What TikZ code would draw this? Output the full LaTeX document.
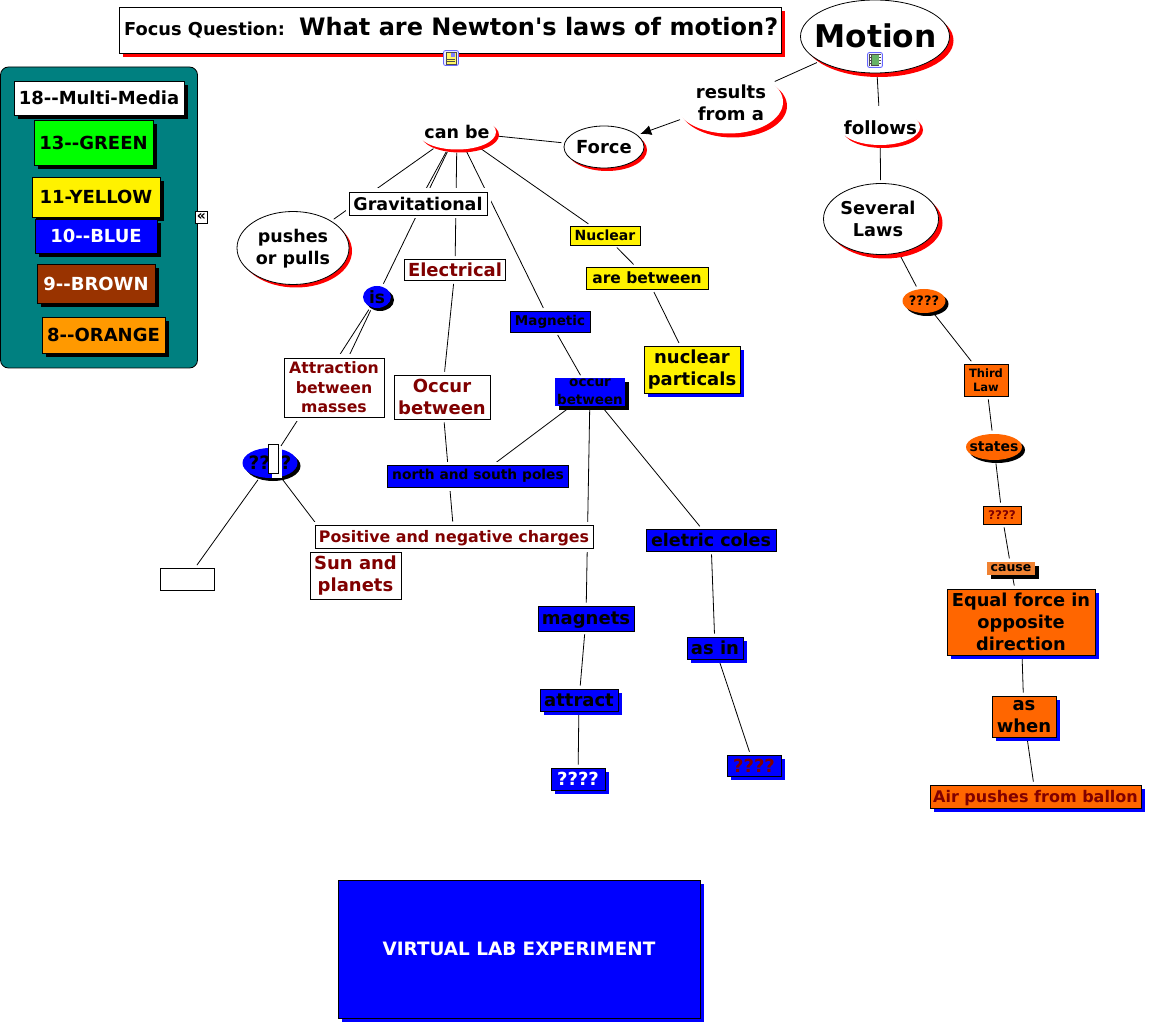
\documentclass[tikz,border=0pt]{standalone}
\usepackage{fontspec}
\setmainfont{DejaVu Sans}[Ligatures=TeXOff]
\usetikzlibrary{shapes.geometric,shadows,arrows.meta,backgrounds}
\definecolor{darkred}{RGB}{128,0,0}
\definecolor{legendteal}{RGB}{0,128,128}
\definecolor{lawred}{RGB}{255,102,0}
\definecolor{legendbrown}{RGB}{153,51,0}
\definecolor{legendorange}{RGB}{255,153,0}
\definecolor{causefill}{RGB}{240,130,50}
\tikzset{
    wh/.style 2 args={minimum width=#1pt,minimum height=#2pt,inner sep=0pt,align=center},
    fsz/.style 2 args={font=\fontsize{#1}{#2}\selectfont\bfseries,inner sep=0pt,align=center},
    boxed/.style={draw=black,line width=.8pt},
    oval/.style={ellipse,draw=black,line width=.8pt},
    redshade/.style={drop shadow={shadow xshift=#1pt,shadow yshift=-#1pt,fill=red,opacity=1}},
    blackshade/.style={drop shadow={shadow xshift=#1pt,shadow yshift=-#1pt,fill=black,opacity=1}},
    blueshade/.style={drop shadow={shadow xshift=#1pt,shadow yshift=-#1pt,fill=blue,opacity=1}},
    halo/.style={preaction={draw=white,line width=7pt}},
    link/.style={draw=black,line width=.8pt,shorten <=3pt,shorten >=3pt},
    iconbox/.style={draw=blue!60!white,rounded corners=2pt,line width=.8pt,fill=blue!8,minimum width=15pt,minimum height=15pt,inner sep=0pt}
}
\begin{document}
\begin{tikzpicture}[x=1pt,y=-1pt]
    \useasboundingbox (0,0) rectangle (1149,1024);
    % legend
    \node[boxed,fill=legendteal,rounded corners=8pt,wh={197}{301}] (legend) at (99,217.5) {};
    \node[boxed,fill=white,blackshade=4,wh={170}{34},fsz={18}{22}] (multimedia) at (99,98) {18--Multi-Media};
    \node[boxed,fill=green,blackshade=4,wh={119}{45},fsz={18}{22}] (green) at (93.5,142.5) {13--GREEN};
    \node[boxed,fill=yellow,blackshade=4,wh={128}{40},fsz={18}{22}] (yellow) at (96,197) {11-YELLOW};
    \node[boxed,fill=blue,blackshade=4,text=white,wh={122}{34},fsz={18}{22}] (bluekey) at (96,236) {10--BLUE};
    \node[boxed,fill=legendbrown,blackshade=4,text=white,wh={118}{39},fsz={18}{22}] (brown) at (96,283.5) {9--BROWN};
    \node[boxed,fill=legendorange,blackshade=4,wh={123}{36},fsz={18}{22}] (orange) at (103.5,335) {8--ORANGE};
    \node[boxed,fill=white,wh={12}{12},fsz={14}{14}] (collapse) at (201.5,217) {«};
    % focus question and top
    \node[boxed,fill=white,redshade=4,wh={662}{46}] (focus) at (450,30) {};
    \node[anchor=base west,fsz={17.8}{22}] (focuslabel) at (124,36) {Focus Question:};
    \node[anchor=base west,fsz={24}{28}] (focustext) at (299,35.5) {What are Newton's laws of motion?};
    \node[iconbox] (docicon) at (451,58) {};
    \fill[yellow!60!white,draw=black!70] (446,52) rectangle (456,64);
    \fill[blue!50] (451,53) rectangle (455,57);
    \draw[black!70] (447,59) -- (455,59) (447,61) -- (455,61);
    \node[oval,fill=white,redshade=4,wh={149}{73}] (motion) at (875,36.5) {};
    \node[fsz={31.3}{38}] (motionlabel) at (875.5,36) {Motion};
    \node[ellipse,fill=white,redshade=4,wh={108}{63}] (results) at (729,102) {};
    \node[fsz={18}{22}] (resultslabel) at (731,103) {results\\from a};
    \node[oval,fill=white,redshade=3,wh={80}{42}] (force) at (604,147) {};
    \node[fsz={18}{22}] (forcelabel) at (604,147) {Force};
    \node[ellipse,fill=white,redshade=3,wh={78}{35}] (canbe) at (457,132) {};
    \node[fsz={17.5}{22}] (canbelabel) at (457,132) {can be};
    \node[ellipse,fill=white,redshade=3,wh={80}{36}] (follows) at (880,127) {};
    \node[fsz={18.2}{22}] (followslabel) at (880.5,127.5) {follows};
    \node[oval,fill=white,redshade=4,wh={115}{71}] (several) at (881,219) {};
    \node[fsz={17.7}{22}] (severallabel) at (878,218.5) {Several\\Laws};
    \node[iconbox] (filmicon) at (875,60) {};
    \fill[black!70] (869,54) rectangle (881,66);
    \fill[green!50!black!60] (871.5,55) rectangle (878.5,65);
    \foreach \y in {56,59,62,65} {
        \fill[white] (869.5,\y-.7) rectangle (870.9,\y+.7);
        \fill[white] (879.1,\y-.7) rectangle (880.5,\y+.7);
    }
    % kinds of force
    \node[oval,fill=white,redshade=3,wh={112}{73}] (pushes) at (293,248) {};
    \node[fsz={17.5}{22}] (pusheslabel) at (293,248.5) {pushes\\or pulls};
    \node[boxed,fill=white,halo,wh={138}{23},fsz={17.5}{20}] (gravity) at (418,203.5) {Gravitational};
    \node[boxed,fill=white,text=darkred,wh={101}{21},fsz={18}{20}] (electrical) at (455,270) {Electrical};
    \node[boxed,fill=yellow,wh={70}{19},fsz={14}{16}] (nuclear) at (605,235.5) {Nuclear};
    \node[boxed,fill=yellow,wh={122}{22},fsz={15.5}{18}] (arebetween) at (647,278) {are between};
    \node[boxed,fill=yellow,blueshade=4,wh={96}{47},fsz={18}{22}] (particals) at (692,369.5) {nuclear\\particals};
    \node[boxed,fill=blue,wh={80}{21},fsz={13.5}{16}] (magnetic) at (550,321.5) {Magnetic};
    \node[fill=blue,blackshade=4,wh={70}{28},fsz={13.5}{17.5}] (occurblue) at (590,392) {occur\\between};
    % gravity and electric side
    \node[oval,fill=blue,draw=none,blackshade=3,wh={28}{22}] (is) at (377,297) {};
    \node[fsz={17}{20}] (islabel) at (377,297) {is};
    \node[boxed,fill=white,text=darkred,halo,wh={100}{59},fsz={15.7}{19.5}] (attraction) at (334,387.5) {Attraction\\between\\masses};
    \node[boxed,fill=white,text=darkred,wh={96}{44},fsz={18}{22}] (occurred) at (442,397) {Occur\\between};
    \node[oval,fill=blue,draw=none,blackshade=3,wh={55}{30}] (query) at (270,463) {};
    \node[fsz={18.5}{20}] (querylabel) at (270,463) {????};
    \node[draw=black,line width=.6pt,fill=white,drop shadow={shadow xshift=4pt,shadow yshift=-4pt,fill=white,opacity=1},wh={10}{29}] (marker) at (273,459) {};
    \node[boxed,fill=blue,halo,wh={181}{22},fsz={13.8}{16}] (poles) at (478,476) {north and south poles};
    \node[boxed,fill=white,text=darkred,halo,wh={278}{23},fsz={15.85}{18},text depth=0pt] (charges) at (454,536.5) {Positive and negative charges};
    \node[boxed,fill=white,text=darkred,wh={91}{47},fsz={18}{22}] (sun) at (355.5,575.5) {Sun and\\planets};
    \node[boxed,fill=white,wh={54}{22}] (blank) at (187,579) {};
    % magnetic branch
    \node[boxed,fill=blue,wh={130}{22},fsz={17.5}{20}] (coles) at (711,540) {eletric coles};
    \node[boxed,fill=blue,wh={96}{25},fsz={18}{20},text depth=0pt] (magnets) at (586,618.5) {magnets};
    \node[boxed,fill=blue,blueshade=4,wh={56}{22},fsz={18}{20}] (asin) at (715,648) {as in};
    \node[boxed,fill=blue,blueshade=4,wh={78}{22},fsz={18}{20}] (attract) at (579,700) {attract};
    \node[boxed,fill=blue,blueshade=4,text=white,wh={54}{22},fsz={18}{20}] (whitequery) at (578,779) {????};
    \node[boxed,fill=blue,blueshade=4,text=darkred,wh={54}{21},fsz={18}{20}] (redquery) at (754,765.5) {????};
    % third law chain
    \node[oval,fill=lawred,draw=none,blackshade=3,wh={43}{24}] (lawquery) at (924,301) {};
    \node[fsz={13}{16}] (lawquerylabel) at (924,301) {????};
    \node[boxed,fill=lawred,wh={44}{32},fsz={11.5}{14.5}] (thirdlaw) at (986,380) {Third\\Law};
    \node[oval,fill=lawred,draw=none,blackshade=3,wh={56}{26}] (states) at (994,447) {};
    \node[fsz={14}{16}] (stateslabel) at (994,447) {states};
    \node[boxed,fill=lawred,text=darkred,wh={38}{18},fsz={12}{14}] (smallquery) at (1002,515) {????};
    \node[fill=causefill,blackshade=4,wh={48}{13},fsz={12.5}{14}] (cause) at (1011,568) {cause};
    \node[boxed,fill=lawred,blueshade=4,wh={148}{66},fsz={17.8}{22}] (equal) at (1021,622) {Equal force in\\opposite\\direction};
    \node[boxed,fill=lawred,blueshade=4,wh={64}{41},fsz={18}{21.5}] (aswhen) at (1024,716.5) {as\\when};
    \node[boxed,fill=lawred,blueshade=4,text=darkred,wh={211}{23},fsz={16}{18},text depth=0pt] (air) at (1035.5,796.5) {Air pushes from ballon};
    % lab button
    \node[boxed,fill=blue,blueshade=4,text=white,wh={362}{138},fsz={18.4}{20}] (lab) at (519,949) {VIRTUAL LAB EXPERIMENT};
    % connectors behind the nodes
    \begin{scope}[on background layer]
        \draw[link] (motion) -- (results);
        \draw[link,-{Latex[length=11pt,width=10pt]}] (results) -- (force);
        \draw[link] (force) -- (canbe);
        \draw[link] (canbe) -- (pushes);
        \draw[link] (canbe) -- (gravity);
        \draw[link] (canbe) -- (is);
        \draw[link] (canbe) -- (electrical);
        \draw[link] (canbe) -- (magnetic);
        \draw[link] (canbe) -- (nuclear);
        \draw[link] (nuclear) -- (arebetween);
        \draw[link] (arebetween) -- (particals);
        \draw[link] (magnetic) -- (occurblue);
        \draw[link] (occurblue) -- (poles);
        \draw[link] (occurblue) -- (magnets);
        \draw[link] (occurblue) -- (coles);
        \draw[link] (electrical) -- (occurred);
        \draw[link] (occurred) -- (charges);
        \draw[link] (is) -- (attraction);
        \draw[link] (is) -- (query);
        \draw[link] (query) -- (blank);
        \draw[link] (query) -- (sun);
        \draw[link] (magnets) -- (attract);
        \draw[link] (attract) -- (whitequery);
        \draw[link] (coles) -- (asin);
        \draw[link] (asin) -- (redquery);
        \draw[link] (motion) -- (follows);
        \draw[link] (follows) -- (several);
        \draw[link] (several) -- (lawquery);
        \draw[link] (lawquery) -- (thirdlaw);
        \draw[link] (thirdlaw) -- (states);
        \draw[link] (states) -- (smallquery);
        \draw[link] (smallquery) -- (cause);
        \draw[link] (cause) -- (equal);
        \draw[link] (equal) -- (aswhen);
        \draw[link] (aswhen) -- (air);
    \end{scope}
\end{tikzpicture}
\end{document}
